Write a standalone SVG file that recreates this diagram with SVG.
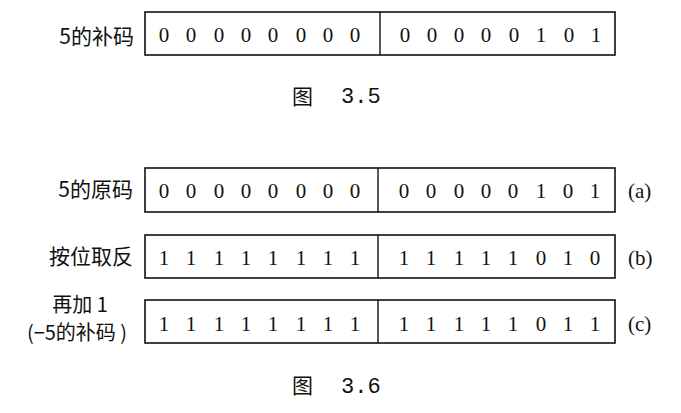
<svg xmlns="http://www.w3.org/2000/svg" width="681" height="413" viewBox="0 0 681 413">
<style>
.box{fill:#fff;stroke:#111;stroke-width:1.6}
.div{stroke:#111;stroke-width:1.4}
.d{font-family:"Liberation Serif",serif;font-size:21px;fill:#111;text-anchor:middle}
.lb{font-family:"Noto Sans CJK SC",sans-serif;font-size:21px;fill:#111;text-anchor:end}
.lm{font-family:"Noto Sans CJK SC",sans-serif;font-size:20px;fill:#111;text-anchor:middle}
.tag{font-family:"Liberation Serif",serif;font-size:21px;fill:#111;text-anchor:start}
.cap{font-family:"Noto Sans CJK SC",sans-serif;font-size:21px;fill:#111}
.num{font-family:"Liberation Mono",monospace;font-size:22px;fill:#111}
</style>
<rect width="681" height="413" fill="#fff"/>
<g id="row-top">
<rect class="box" x="145" y="12" width="470" height="43"/>
<line class="div" x1="380" y1="12" x2="380" y2="55"/>
<text class="lb" x="134" y="44">5的补码</text>
<g class="d">
<text x="164" y="42">0</text><text x="191" y="42">0</text><text x="219" y="42">0</text><text x="246" y="42">0</text><text x="273" y="42">0</text><text x="301" y="42">0</text><text x="328" y="42">0</text><text x="355" y="42">0</text>
<text x="405" y="42">0</text><text x="432" y="42">0</text><text x="459" y="42">0</text><text x="486" y="42">0</text><text x="514" y="42">0</text><text x="541" y="42">1</text><text x="569" y="42">0</text><text x="596" y="42">1</text>
</g>
</g>
<g id="cap35">
<text class="cap" x="292" y="104">图</text>
<text class="num" x="341" y="103">3.5</text>
</g>
<g id="row-a">
<rect class="box" x="145" y="168" width="470" height="44"/>
<line class="div" x1="378" y1="168" x2="378" y2="212"/>
<text class="lb" x="133" y="197">5的原码</text>
<g class="d">
<text x="164" y="198">0</text><text x="191" y="198">0</text><text x="219" y="198">0</text><text x="246" y="198">0</text><text x="273" y="198">0</text><text x="301" y="198">0</text><text x="328" y="198">0</text><text x="355" y="198">0</text>
<text x="404" y="198">0</text><text x="431" y="198">0</text><text x="459" y="198">0</text><text x="486" y="198">0</text><text x="513" y="198">0</text><text x="541" y="198">1</text><text x="568" y="198">0</text><text x="595" y="198">1</text>
</g>
<text class="tag" x="628" y="198">(a)</text>
</g>
<g id="row-b">
<rect class="box" x="145" y="235" width="470" height="43"/>
<line class="div" x1="378" y1="235" x2="378" y2="278"/>
<text class="lb" x="133" y="264">按位取反</text>
<g class="d">
<text x="164" y="265">1</text><text x="191" y="265">1</text><text x="219" y="265">1</text><text x="246" y="265">1</text><text x="273" y="265">1</text><text x="301" y="265">1</text><text x="328" y="265">1</text><text x="355" y="265">1</text>
<text x="404" y="265">1</text><text x="431" y="265">1</text><text x="459" y="265">1</text><text x="486" y="265">1</text><text x="513" y="265">1</text><text x="541" y="265">0</text><text x="568" y="265">1</text><text x="595" y="265">0</text>
</g>
<text class="tag" x="628" y="265">(b)</text>
</g>
<g id="row-c">
<rect class="box" x="145" y="300" width="470" height="43"/>
<line class="div" x1="378" y1="300" x2="378" y2="343"/>
<text class="lm" x="80" y="312">再加 1</text>
<text class="lm" x="77" y="340">(−5的补码 )</text>
<g class="d">
<text x="164" y="331">1</text><text x="191" y="331">1</text><text x="219" y="331">1</text><text x="246" y="331">1</text><text x="273" y="331">1</text><text x="301" y="331">1</text><text x="328" y="331">1</text><text x="355" y="331">1</text>
<text x="404" y="331">1</text><text x="431" y="331">1</text><text x="459" y="331">1</text><text x="486" y="331">1</text><text x="513" y="331">1</text><text x="541" y="331">0</text><text x="568" y="331">1</text><text x="595" y="331">1</text>
</g>
<text class="tag" x="628" y="331">(c)</text>
</g>
<g id="cap36">
<text class="cap" x="292" y="393">图</text>
<text class="num" x="341" y="393">3.6</text>
</g>
</svg>
